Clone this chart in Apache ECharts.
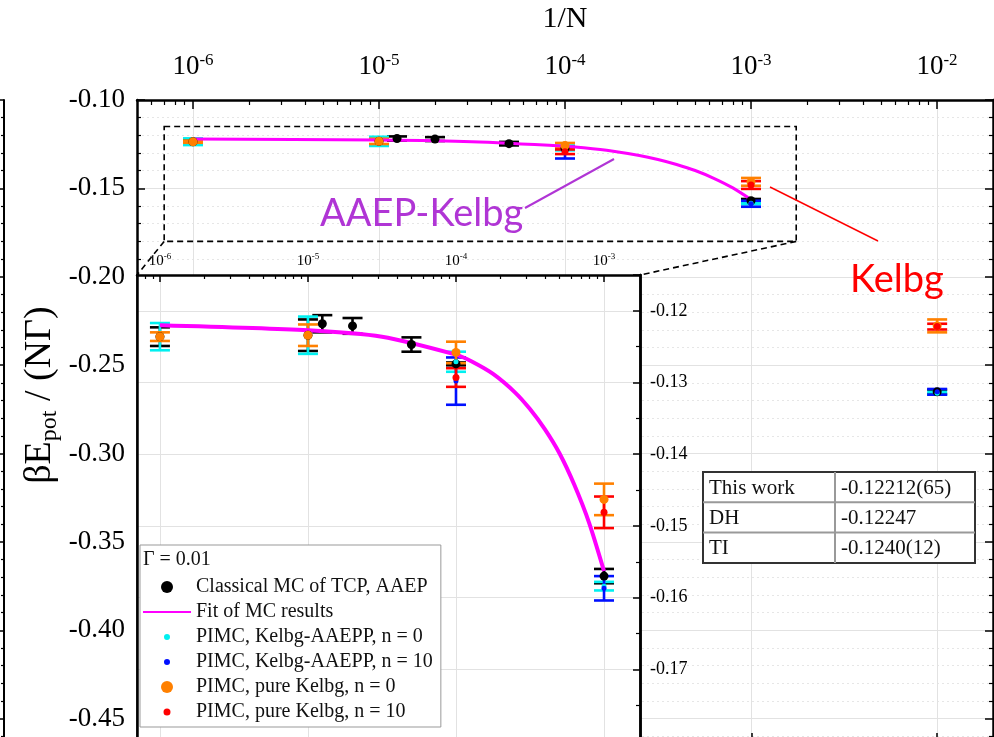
<!DOCTYPE html>
<html><head><meta charset="utf-8">
<script src="https://cdn.jsdelivr.net/npm/echarts@6/dist/echarts.min.js"></script>
<style>html,body{margin:0;padding:0;background:#fff}#c{width:994px;height:737px}</style>
</head><body><div id="c"></div><script>
// ---------------- DATA (1/N , beta*E_pot/(N*Gamma)) ----------------
// Classical MC of TCP, AAEP
const mcInvN = [1e-6, 1e-5, 1.25e-5, 2e-5, 5e-5, 1e-4, 1e-3, 1e-2];
const mcVal  = [-0.1236, -0.1234, -0.1218, -0.1221, -0.1247, -0.1274, -0.1570, -0.1313];
const mcErr  = [0.0013, 0.0022, 0.0012, 0.0011, 0.0010, 0.0002, 0.0010, 0.0003];
// PIMC, Kelbg-AAEPP, n = 0
const ka0InvN = [1e-6, 1e-5, 1e-4, 1e-3, 1e-2];
const ka0Val  = [-0.1236, -0.1234, -0.1271, -0.1584, -0.1315];
const ka0Err  = [0.0019, 0.0026, 0.0014, 0.0006, 0.0002];
// PIMC, Kelbg-AAEPP, n = 10
const ka10InvN = [1e-4, 1e-3, 1e-2];
const ka10Val  = [-0.1298, -0.1587, -0.1313];
const ka10Err  = [0.0033, 0.0017, 0.0004];
// PIMC, pure Kelbg, n = 0
const pk0InvN = [1e-6, 1e-5, 1e-4, 1e-3, 1e-2];
const pk0Val  = [-0.1236, -0.1234, -0.1258, -0.1463, -0.1221];
const pk0Err  = [0.0006, 0.0015, 0.0015, 0.0022, 0.0009];
// PIMC, pure Kelbg, n = 10
const pk10InvN = [1e-4, 1e-3, 1e-2];
const pk10Val  = [-0.1293, -0.1481, -0.1222];
const pk10Err  = [0.0013, 0.0022, 0.0004];
// Fit of MC results
const fitInvN = [1e-6, 1e-5, 3.16e-5, 1e-4, 1.26e-4, 1.78e-4, 2.51e-4, 3.16e-4, 3.98e-4, 5.01e-4, 6.31e-4, 7.94e-4, 1e-3];
const fitVal  = [-0.1220, -0.1227, -0.1236, -0.1261, -0.1270, -0.1288, -0.1314, -0.1337, -0.1365, -0.1399, -0.1443, -0.1496, -0.1563];
// Table
const tableLabels = ['This work', 'DH', 'TI'];
const tableValues = ['-0.12212(65)', '-0.12247', '-0.1240(12)'];
const seriesNames = ['Classical MC of TCP, AAEP', 'Fit of MC results', 'PIMC, Kelbg-AAEPP, n = 0',
  'PIMC, Kelbg-AAEPP, n = 10', 'PIMC, pure Kelbg, n = 0', 'PIMC, pure Kelbg, n = 10'];
const gammaLabel = 'Γ = 0.01';
// -------------------------------------------------------------------

const SERIF = 'Liberation Serif';
const lg = Math.log10;
const G0X = [lg(5e-7), lg(2e-2)];
const G1X = [lg(7e-7), lg(1.75e-3)];
const G2X = [lg(2.5e-4), lg(2e-2)];
const G0Y = [-0.50, -0.10];
const G1Y = [-0.18, -0.115];

function majorVals(r) { const o = []; for (let d = -9; d <= 1; d++) if (d >= r[0] - 1e-9 && d <= r[1] + 1e-9) o.push(d); return o; }
function minorVals(r) { const o = []; for (let d = -9; d <= 1; d++) for (let k = 2; k <= 9; k++) { const v = lg(k) + d; if (v > r[0] && v < r[1]) o.push(v); } return o; }
function expFmt(v) { const e = Math.round(v); if (Math.abs(v - e) > 1e-6) return ''; return '{b|10}{s|' + e + '}'; }

function xPair(gridIndex, range, position, o) {
  const major = {
    type: 'value', gridIndex, position, min: range[0], max: range[1], splitNumber: 4, z: o.z,
    axisLine: { show: o.line, onZero: false, lineStyle: { color: '#000', width: 2.5 } },
    axisTick: { show: true, inside: true, length: o.majLen, customValues: majorVals(range), lineStyle: { color: '#000', width: 1.5 } },
    axisLabel: o.label ? {
      show: true, customValues: majorVals(range), margin: o.margin, formatter: expFmt, color: '#000',
      rich: { b: { fontFamily: SERIF, fontSize: o.fs, lineHeight: o.fs + 3, color: '#000' },
              s: { fontFamily: SERIF, fontSize: Math.round(o.fs * 0.63), lineHeight: Math.round(o.fs * 0.63), verticalAlign: 'top', color: '#000' } }
    } : { show: false },
    splitLine: { show: o.split, lineStyle: { color: '#e2e2e2', width: 1 } },
    minorTick: { show: false }, minorSplitLine: { show: false }
  };
  if (o.name) {
    major.name = o.name; major.nameLocation = 'middle'; major.nameGap = o.nameGap;
    major.nameTextStyle = { fontFamily: SERIF, fontSize: 30, color: '#000' };
  }
  const minor = {
    type: 'value', gridIndex, position, min: range[0], max: range[1], z: o.z,
    axisLine: { show: false, onZero: false },
    axisTick: { show: true, inside: true, length: o.minLen, customValues: minorVals(range), lineStyle: { color: '#000', width: 1.2 } },
    axisLabel: { show: false }, splitLine: { show: false }
  };
  return [major, minor];
}

const xAxis = [].concat(
  xPair(0, G0X, 'top', { z: 1, line: true, majLen: 9, minLen: 5, label: true, fs: 27, margin: 18, split: true, name: '1/N', nameGap: 66 }),
  xPair(1, G1X, 'top', { z: 4, line: true, majLen: 7, minLen: 4, label: true, fs: 15, margin: 5, split: true }),
  xPair(2, G2X, 'bottom', { z: 6, line: false, majLen: 8, minLen: 4, label: false, split: false })
);

const yAxis = [
  { type: 'value', gridIndex: 0, position: 'left', min: G0Y[0], max: G0Y[1], interval: 0.05, z: 1,
    axisLine: { show: true, onZero: false, lineStyle: { color: '#000', width: 2.5 } },
    axisTick: { show: true, inside: true, length: 8, lineStyle: { color: '#000', width: 1.5 } },
    minorTick: { show: true, splitNumber: 5, length: 4, lineStyle: { color: '#000', width: 1.2 } },
    axisLabel: { show: true, margin: 12, fontFamily: SERIF, fontSize: 27, color: '#000', formatter: v => v.toFixed(2) },
    splitLine: { show: true, lineStyle: { color: '#e2e2e2', width: 1 } },
    minorSplitLine: { show: true, lineStyle: { color: '#e6e6e6', width: 1, type: [2, 3] } } },
  { type: 'value', gridIndex: 0, position: 'right', min: G0Y[0], max: G0Y[1], interval: 0.05, z: 1,
    axisLine: { show: true, onZero: false, lineStyle: { color: '#000', width: 2.5 } },
    axisTick: { show: true, inside: true, length: 8, lineStyle: { color: '#000', width: 1.5 } },
    minorTick: { show: true, splitNumber: 5, length: 4, lineStyle: { color: '#000', width: 1.2 } },
    axisLabel: { show: false }, splitLine: { show: false } },
  { type: 'value', gridIndex: 0, position: 'left', offset: 133, min: G0Y[0], max: G0Y[1], interval: 0.05, z: 1,
    axisLine: { show: true, onZero: false, lineStyle: { color: '#000', width: 2 } },
    axisTick: { show: true, inside: false, length: 5, lineStyle: { color: '#000', width: 1.5 } },
    minorTick: { show: true, splitNumber: 5, length: 3, lineStyle: { color: '#000', width: 1.2 } },
    axisLabel: { show: false }, splitLine: { show: false } },
  { type: 'value', gridIndex: 1, position: 'left', min: G1Y[0], max: G1Y[1], interval: 0.01, z: 4,
    axisLine: { show: true, onZero: false, lineStyle: { color: '#000', width: 2.5 } },
    axisTick: { show: false }, axisLabel: { show: false },
    splitLine: { show: true, lineStyle: { color: '#e2e2e2', width: 1 } } },
  { type: 'value', gridIndex: 1, position: 'right', min: G1Y[0], max: G1Y[1], interval: 0.01, z: 4,
    axisLine: { show: true, onZero: false, lineStyle: { color: '#000', width: 2.5 } },
    axisTick: { show: true, inside: true, length: 7, lineStyle: { color: '#000', width: 1.5 } },
    minorTick: { show: true, splitNumber: 2, length: 4, lineStyle: { color: '#000', width: 1.2 } },
    axisLabel: { show: false }, splitLine: { show: false } },
  { type: 'value', gridIndex: 2, position: 'left', min: G1Y[0], max: G1Y[1], interval: 0.01, z: 6,
    axisLine: { show: true, onZero: false, lineStyle: { color: '#000', width: 2.5 } },
    axisTick: { show: false },
    axisLabel: { show: true, inside: true, margin: 10, fontFamily: SERIF, fontSize: 18, color: '#000',
      showMaxLabel: false, showMinLabel: false, formatter: v => v.toFixed(2) },
    splitLine: { show: false } }
];

// series helpers
function pick(xs, ys, es, filt) {
  const o = []; xs.forEach((x, i) => { if (filt(x)) o.push([lg(x), ys[i], es[i]]); }); return o;
}
function errBars(xs, ys, es, color, xi, yi, z, filt) {
  return {
    type: 'custom', xAxisIndex: xi, yAxisIndex: yi, z, silent: true,
    data: pick(xs, ys, es, filt).map(d => [d[0], d[1] - d[2], d[1] + d[2]]),
    encode: { x: 0, y: [1, 2] },
    renderItem(params, api) {
      const x = api.value(0);
      const lo = api.coord([x, api.value(1)]);
      const hi = api.coord([x, api.value(2)]);
      const w = 10, st = { stroke: color, lineWidth: 2.6 };
      return { type: 'group', children: [
        { type: 'line', shape: { x1: lo[0], y1: lo[1], x2: hi[0], y2: hi[1] }, style: st },
        { type: 'line', shape: { x1: lo[0] - w, y1: lo[1], x2: lo[0] + w, y2: lo[1] }, style: st },
        { type: 'line', shape: { x1: hi[0] - w, y1: hi[1], x2: hi[0] + w, y2: hi[1] }, style: st }
      ] };
    }
  };
}
function pts(name, xs, ys, es, color, size, xi, yi, z, filt) {
  return { type: 'scatter', name, xAxisIndex: xi, yAxisIndex: yi, z, silent: true, symbol: 'circle', symbolSize: size,
    itemStyle: { color, opacity: 1 }, data: pick(xs, ys, es, filt).map(d => [d[0], d[1]]) };
}
const COLORS = { mc: '#000000', fit: '#ff00ff', ka0: '#00f0f0', ka10: '#0010ff', pk0: '#ff8000', pk10: '#ff0000' };
const lowN = x => x < 5e-3, highN = x => x > 5e-3;

function panel(xi, yi, z, filt, withFit, fitW, markBox) {
  const s = [];
  s.push(errBars(mcInvN, mcVal, mcErr, COLORS.mc, xi, yi, z, filt));
  s.push(pts(seriesNames[0], mcInvN, mcVal, mcErr, COLORS.mc, 9, xi, yi, z, filt));
  if (withFit) {
    const line = { type: 'line', name: seriesNames[1], xAxisIndex: xi, yAxisIndex: yi, z, silent: true,
      symbol: 'none', smooth: 0.25, lineStyle: { color: COLORS.fit, width: fitW },
      itemStyle: { color: 'rgba(0,0,0,0)', borderColor: 'rgba(0,0,0,0)' },
      data: fitInvN.map((x, i) => [lg(x), fitVal[i]]) };
    if (markBox) {
      line.markArea = { silent: true, label: { show: false },
        itemStyle: { color: 'rgba(0,0,0,0)', borderColor: '#000', borderWidth: 1.6, borderType: [6, 4] },
        data: [[{ coord: [G1X[0], G1Y[1]] }, { coord: [G1X[1], G1Y[0]] }]] };
    }
    s.push(line);
  }
  s.push(errBars(ka0InvN, ka0Val, ka0Err, COLORS.ka0, xi, yi, z, filt));
  s.push(pts(seriesNames[2], ka0InvN, ka0Val, ka0Err, COLORS.ka0, 5, xi, yi, z, filt));
  s.push(errBars(ka10InvN, ka10Val, ka10Err, COLORS.ka10, xi, yi, z, filt));
  s.push(pts(seriesNames[3], ka10InvN, ka10Val, ka10Err, COLORS.ka10, 5, xi, yi, z, filt));
  s.push(errBars(pk0InvN, pk0Val, pk0Err, COLORS.pk0, xi, yi, z, filt));
  s.push(pts(seriesNames[4], pk0InvN, pk0Val, pk0Err, COLORS.pk0, 9, xi, yi, z, filt));
  s.push(errBars(pk10InvN, pk10Val, pk10Err, COLORS.pk10, xi, yi, z, filt));
  s.push(pts(seriesNames[5], pk10InvN, pk10Val, pk10Err, COLORS.pk10, 7, xi, yi, z, filt));
  return s;
}

const series = [].concat(
  panel(0, 0, 2, lowN, true, 3, true),
  panel(2, 3, 5, lowN, true, 4, false),
  panel(4, 5, 7, highN, false, 0, false)
);

const smallIcon = { borderColor: '#fff', borderWidth: 6 };
const legend = {
  left: 140, top: 545, orient: 'vertical', z: 10, selectedMode: false,
  padding: [30, 8, 3, 2], itemWidth: 48, itemHeight: 12, itemGap: 1,
  backgroundColor: '#fff', borderColor: '#999', borderWidth: 1,
  textStyle: { fontFamily: SERIF, fontSize: 20, color: '#111', lineHeight: 24 },
  data: [
    { name: seriesNames[0], icon: 'circle' },
    { name: seriesNames[1], itemStyle: { color: 'rgba(0,0,0,0)', borderColor: 'rgba(0,0,0,0)', opacity: 0 } },
    { name: seriesNames[2], icon: 'circle', itemStyle: smallIcon },
    { name: seriesNames[3], icon: 'circle', itemStyle: smallIcon },
    { name: seriesNames[4], icon: 'circle' },
    { name: seriesNames[5], icon: 'circle', itemStyle: { borderColor: '#fff', borderWidth: 5 } }
  ]
};

// table graphic
const TX = 703, TY = 472, TW = 272, RH = 30.3, C1 = 132;
const tableEls = [
  { id: 'tbg', type: 'rect', z: 100, shape: { x: TX, y: TY, width: TW, height: RH * 3 }, style: { fill: '#fff', stroke: '#333', lineWidth: 2 } },
  { id: 'th1', type: 'line', z: 101, shape: { x1: TX, y1: TY + RH, x2: TX + TW, y2: TY + RH }, style: { stroke: '#999', lineWidth: 2 } },
  { id: 'th2', type: 'line', z: 101, shape: { x1: TX, y1: TY + 2 * RH, x2: TX + TW, y2: TY + 2 * RH }, style: { stroke: '#999', lineWidth: 2 } },
  { id: 'tv', type: 'line', z: 101, shape: { x1: TX + C1, y1: TY, x2: TX + C1, y2: TY + 3 * RH }, style: { stroke: '#999', lineWidth: 2 } }
];
tableLabels.forEach((t, i) => {
  tableEls.push({ id: 'tl' + i, type: 'text', z: 102, x: TX + 6, y: TY + RH * i + RH / 2 + 1,
    style: { text: t, fontFamily: SERIF, fontSize: 21, fill: '#111', align: 'left', verticalAlign: 'middle' } });
  tableEls.push({ id: 'tvl' + i, type: 'text', z: 102, x: TX + C1 + 6, y: TY + RH * i + RH / 2 + 1,
    style: { text: tableValues[i], fontFamily: SERIF, fontSize: 21, fill: '#111', align: 'left', verticalAlign: 'middle' } });
});

const graphics = tableEls.concat([
  { id: 'gam', type: 'text', z: 100, x: 143, y: 560,
    style: { text: gammaLabel, fontFamily: SERIF, fontSize: 20, fill: '#111', align: 'left', verticalAlign: 'middle' } },
  { id: 'ytitle', type: 'text', z: 100, x: 40, y: 395, rotation: Math.PI / 2,
    style: { text: '{a|βE}{s|pot}{a| / (NΓ)}', align: 'center', verticalAlign: 'middle',
      rich: { a: { fontFamily: SERIF, fontSize: 38, lineHeight: 44, fill: '#000' },
              s: { fontFamily: SERIF, fontSize: 24, lineHeight: 26, verticalAlign: 'bottom', fill: '#000' } } } },
  { id: 'aaepTxt', type: 'text', z: 100, x: 320, y: 214,
    style: { text: 'AAEP-Kelbg', fontFamily: 'Lato', fontSize: 38, fill: '#b035d5', align: 'left', verticalAlign: 'middle' } },
  { id: 'aaepLine', type: 'line', z: 100, shape: { x1: 525, y1: 208, x2: 614, y2: 159 }, style: { stroke: '#b035d5', lineWidth: 2 } },
  { id: 'kelTxt', type: 'text', z: 100, x: 850, y: 280,
    style: { text: 'Kelbg', fontFamily: 'Lato', fontSize: 38, fill: '#ff0000', align: 'left', verticalAlign: 'middle' } },
  { id: 'kelLine', type: 'line', z: 100, shape: { x1: 770, y1: 187, x2: 878, y2: 241 }, style: { stroke: '#ff0000', lineWidth: 1.5 } }
]);

const chart = echarts.init(document.getElementById('c'), null, { renderer: 'canvas' });
chart.setOption({
  animation: false,
  backgroundColor: '#fff',
  grid: [
    { left: 137, top: 100, width: 856, height: 707, show: false, containLabel: false, outerBoundsMode: 'none', z: 0 },
    { left: 137, top: 275, width: 503, height: 466, show: true, backgroundColor: '#fff', borderWidth: 0, containLabel: false, outerBoundsMode: 'none', z: 3 },
    { left: 640, top: 275, width: 353, height: 466, show: false, containLabel: false, outerBoundsMode: 'none', z: 6 }
  ],
  xAxis, yAxis, series, legend,
  graphic: { elements: graphics }
});

// dashed connectors from the zoom box (main axes) to the inset corners
const bl = chart.convertToPixel({ xAxisIndex: 0, yAxisIndex: 0 }, [G1X[0], G1Y[0]]);
const br = chart.convertToPixel({ xAxisIndex: 0, yAxisIndex: 0 }, [G1X[1], G1Y[0]]);
const tl = chart.convertToPixel({ xAxisIndex: 2, yAxisIndex: 3 }, [G1X[0], G1Y[1]]);
const tr = chart.convertToPixel({ xAxisIndex: 2, yAxisIndex: 3 }, [G1X[1], G1Y[1]]);
chart.setOption({ graphic: { elements: [
  { id: 'connL', type: 'line', z: 50, shape: { x1: bl[0], y1: bl[1], x2: tl[0], y2: tl[1] }, style: { stroke: '#000', lineWidth: 1.6, lineDash: [6, 4] } },
  { id: 'connR', type: 'line', z: 50, shape: { x1: br[0], y1: br[1], x2: tr[0], y2: tr[1] }, style: { stroke: '#000', lineWidth: 1.6, lineDash: [6, 4] } }
] } });
</script></body></html>
